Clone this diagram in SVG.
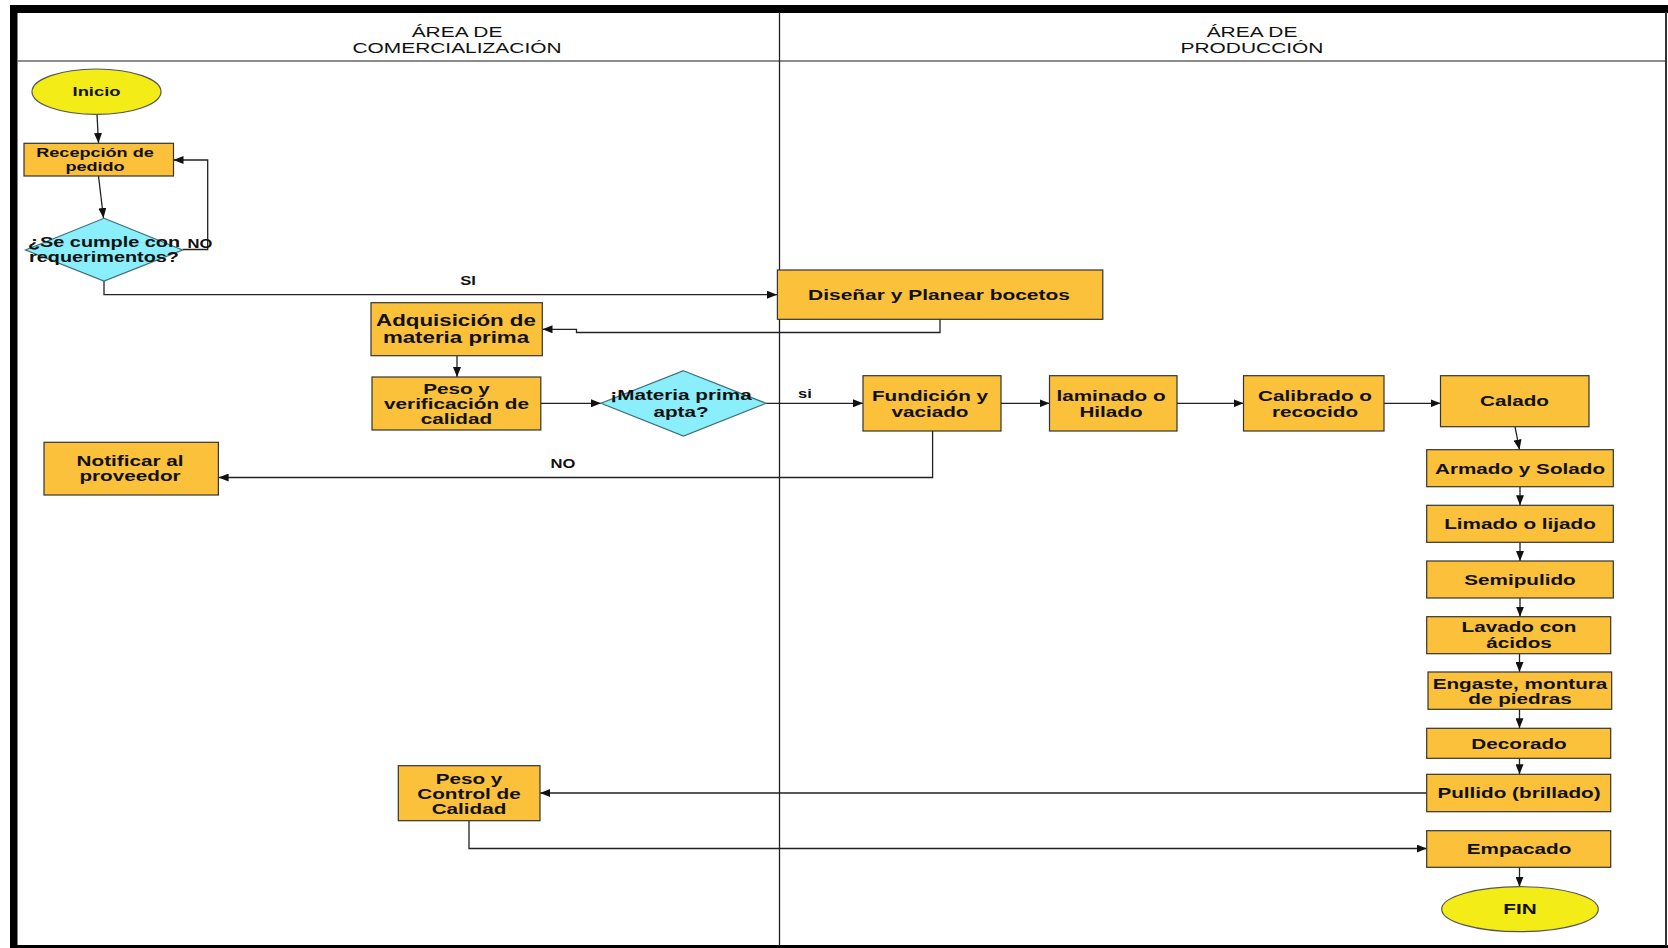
<svg xmlns="http://www.w3.org/2000/svg" width="1668" height="948" viewBox="0 0 1668 948">
<defs>
<style>
.box{fill:#FBC13B;stroke:#333;stroke-width:1.2}
.dia{fill:#8AEEFB;stroke:#3f6f7a;stroke-width:1.2}
.ell{fill:#F4EC16;stroke:#555;stroke-width:1.2}
.t{font-family:"Liberation Sans",Arial,sans-serif;font-weight:bold;font-size:15px;text-anchor:middle;fill:#111}
.h{font-family:"Liberation Sans",Arial,sans-serif;font-size:15.5px;text-anchor:middle;fill:#111}
.lbl{font-family:"Liberation Sans",Arial,sans-serif;font-weight:bold;font-size:12px;text-anchor:middle;fill:#111}
.c{fill:none;stroke:#222;stroke-width:1.3}
</style>
<marker id="ah" markerUnits="userSpaceOnUse" markerWidth="11" markerHeight="8" refX="10" refY="4" orient="auto">
<path d="M0,0 L10,4 L0,8 z" fill="#111"/>
</marker>
</defs>
<rect x="0" y="0" width="1668" height="948" fill="#fff"/>
<g id="frame">
<rect x="10" y="5" width="1658" height="8" fill="#000"/>
<rect x="10" y="5" width="7.5" height="943" fill="#000"/>
<rect x="10" y="945" width="1658" height="3" fill="#000"/>
<line x1="1666" y1="12" x2="1666" y2="946" stroke="#333" stroke-width="2"/>
<line x1="17" y1="61" x2="1665" y2="61" stroke="#666" stroke-width="1.5"/>
<line x1="779.5" y1="12" x2="779.5" y2="946" stroke="#222" stroke-width="1.3"/>
</g>
<g id="lane-headers">
<text class="h" transform="translate(457 0) scale(1.35 1)"><tspan x="0" y="37">ÁREA DE</tspan><tspan x="0" y="53.5">COMERCIALIZACIÓN</tspan></text>
<text class="h" transform="translate(1252 0) scale(1.35 1)"><tspan x="0" y="37">ÁREA DE</tspan><tspan x="0" y="53.5">PRODUCCIÓN</tspan></text>
</g>
<g id="connectors">
<path class="c" d="M97,114.3 L98.5,143" marker-end="url(#ah)"/>
<path class="c" d="M98.5,176 L103.5,218" marker-end="url(#ah)"/>
<path class="c" d="M182.6,249.5 H207.7 V160 H173.5" marker-end="url(#ah)"/>
<path class="c" d="M104,281 V294.7 H777" marker-end="url(#ah)"/>
<path class="c" d="M940,319.3 V332.5 H576.5 V329.3 H542.5" marker-end="url(#ah)"/>
<path class="c" d="M457,355.7 V377" marker-end="url(#ah)"/>
<path class="c" d="M540.8,403.3 H601" marker-end="url(#ah)"/>
<path class="c" d="M766,403.3 H863" marker-end="url(#ah)"/>
<path class="c" d="M932.6,431 V477.5 H218.6" marker-end="url(#ah)"/>
<path class="c" d="M1001,403.3 H1049.5" marker-end="url(#ah)"/>
<path class="c" d="M1177,403.3 H1243.5" marker-end="url(#ah)"/>
<path class="c" d="M1384,403.3 H1440.5" marker-end="url(#ah)"/>
<path class="c" d="M1515,426.7 L1519.5,449.7" marker-end="url(#ah)"/>
<path class="c" d="M1520,486.7 V505.3" marker-end="url(#ah)"/>
<path class="c" d="M1520,542.3 V561" marker-end="url(#ah)"/>
<path class="c" d="M1520,598 V616.7" marker-end="url(#ah)"/>
<path class="c" d="M1519.5,653.7 V672" marker-end="url(#ah)"/>
<path class="c" d="M1519.5,709.3 V728.3" marker-end="url(#ah)"/>
<path class="c" d="M1519.5,758.3 V774.3" marker-end="url(#ah)"/>
<path class="c" d="M1426.7,793 H540.2" marker-end="url(#ah)"/>
<path class="c" d="M469,820.7 V848.5 H1426.7" marker-end="url(#ah)"/>
<path class="c" d="M1519.5,867.3 V886.7" marker-end="url(#ah)"/>
<text class="lbl" transform="translate(200 0) scale(1.38 1)" y="248.5">NO</text>
<text class="lbl" transform="translate(468 0) scale(1.38 1)" y="285.5">SI</text>
<text class="lbl" transform="translate(805 0) scale(1.38 1)" y="398">si</text>
<text class="lbl" transform="translate(563 0) scale(1.38 1)" y="468.5">NO</text>
</g>
<g id="inicio">
<ellipse class="ell" cx="96.5" cy="91.7" rx="64.5" ry="22.7"/>
<text class="t" style="font-size:13.3px" transform="translate(96.5 0) scale(1.38 1)" y="96.5">Inicio</text>
</g>
<g id="recepcion">
<rect class="box" x="24" y="143.3" width="149.5" height="32.7"/>
<text class="t" style="font-size:13.3px" transform="translate(95 0) scale(1.36 1)"><tspan x="0" y="157.4">Recepción de</tspan><tspan x="0" y="170.7">pedido</tspan></text>
</g>
<g id="cumple">
<polygon class="dia" points="104,218.3 182.6,250 104,281 25.5,250"/>
<text class="t" style="font-size:14.6px" transform="translate(104 0) scale(1.36 1)"><tspan x="0" y="247.3">¿Se cumple con</tspan><tspan x="0" y="262">requerimentos?</tspan></text>
</g>
<g id="disenar">
<rect class="box" x="777.4" y="270" width="325.4" height="49.3"/>
<text class="t" style="font-size:15.4px" transform="translate(939 0) scale(1.36 1)" y="300.5">Diseñar y Planear bocetos</text>
</g>
<g id="adquisicion">
<rect class="box" x="371" y="302.7" width="171.3" height="53"/>
<text class="t" style="font-size:16.4px" transform="translate(456 0) scale(1.36 1)"><tspan x="0" y="326">Adquisición de</tspan><tspan x="0" y="342.7">materia prima</tspan></text>
</g>
<g id="peso-verificacion">
<rect class="box" x="372" y="377" width="168.8" height="53"/>
<text class="t" transform="translate(456.5 0) scale(1.38 1)"><tspan x="0" y="393.7">Peso y</tspan><tspan x="0" y="408.7">verificación de</tspan><tspan x="0" y="423.7">calidad</tspan></text>
</g>
<g id="materia-apta">
<polygon class="dia" points="683.5,370.7 766,403.3 683.5,436 601,403.3"/>
<text class="t" transform="translate(681 0) scale(1.38 1)"><tspan x="0" y="400.4">¡Materia prima</tspan><tspan x="0" y="417">apta?</tspan></text>
</g>
<g id="notificar">
<rect class="box" x="44" y="442.3" width="174.4" height="52.7"/>
<text class="t" transform="translate(130 0) scale(1.38 1)"><tspan x="0" y="466">Notificar al</tspan><tspan x="0" y="481.4">proveedor</tspan></text>
</g>
<g id="fundicion">
<rect class="box" x="863" y="375.7" width="138" height="55.3"/>
<text class="t" transform="translate(930 0) scale(1.38 1)"><tspan x="0" y="401">Fundición y</tspan><tspan x="0" y="416.7">vaciado</tspan></text>
</g>
<g id="laminado">
<rect class="box" x="1049.5" y="375.7" width="127.5" height="55.3"/>
<text class="t" transform="translate(1111 0) scale(1.38 1)"><tspan x="0" y="401">laminado o</tspan><tspan x="0" y="416.7">Hilado</tspan></text>
</g>
<g id="calibrado">
<rect class="box" x="1243.5" y="375.7" width="140.5" height="55.3"/>
<text class="t" transform="translate(1315 0) scale(1.38 1)"><tspan x="0" y="401">Calibrado o</tspan><tspan x="0" y="416.7">recocido</tspan></text>
</g>
<g id="calado">
<rect class="box" x="1440.5" y="375.7" width="148.5" height="51"/>
<text class="t" transform="translate(1514.5 0) scale(1.38 1)" y="406">Calado</text>
</g>
<g id="armado">
<rect class="box" x="1426.7" y="449.7" width="186.6" height="37"/>
<text class="t" transform="translate(1520 0) scale(1.38 1)" y="473.7">Armado y Solado</text>
</g>
<g id="limado">
<rect class="box" x="1426.7" y="505.3" width="186.6" height="37"/>
<text class="t" transform="translate(1520 0) scale(1.38 1)" y="529.4">Limado o lijado</text>
</g>
<g id="semipulido">
<rect class="box" x="1426.7" y="561" width="186.6" height="37"/>
<text class="t" transform="translate(1520 0) scale(1.38 1)" y="584.7">Semipulido</text>
</g>
<g id="lavado">
<rect class="box" x="1426.7" y="616.7" width="184" height="37"/>
<text class="t" transform="translate(1519 0) scale(1.38 1)"><tspan x="0" y="632.5">Lavado con</tspan><tspan x="0" y="648.5">ácidos</tspan></text>
</g>
<g id="engaste">
<rect class="box" x="1428" y="672" width="183.7" height="37.3"/>
<text class="t" transform="translate(1520 0) scale(1.38 1)"><tspan x="0" y="688.7">Engaste, montura</tspan><tspan x="0" y="704.4">de piedras</tspan></text>
</g>
<g id="decorado">
<rect class="box" x="1426.7" y="728.3" width="184" height="30"/>
<text class="t" transform="translate(1519 0) scale(1.38 1)" y="748.7">Decorado</text>
</g>
<g id="pullido">
<rect class="box" x="1426.7" y="774.3" width="184" height="37.4"/>
<text class="t" transform="translate(1519 0) scale(1.38 1)" y="798">Pullido (brillado)</text>
</g>
<g id="peso-control">
<rect class="box" x="398.3" y="765.7" width="141.7" height="55"/>
<text class="t" transform="translate(469 0) scale(1.38 1)"><tspan x="0" y="783.7">Peso y</tspan><tspan x="0" y="798.7">Control de</tspan><tspan x="0" y="814.4">Calidad</tspan></text>
</g>
<g id="empacado">
<rect class="box" x="1426.7" y="830.7" width="184" height="36.6"/>
<text class="t" transform="translate(1519 0) scale(1.38 1)" y="854">Empacado</text>
</g>
<g id="fin">
<ellipse class="ell" cx="1520" cy="909.2" rx="78.3" ry="22.5"/>
<text class="t" transform="translate(1520 0) scale(1.38 1)" y="913.8">FIN</text>
</g>
</svg>
